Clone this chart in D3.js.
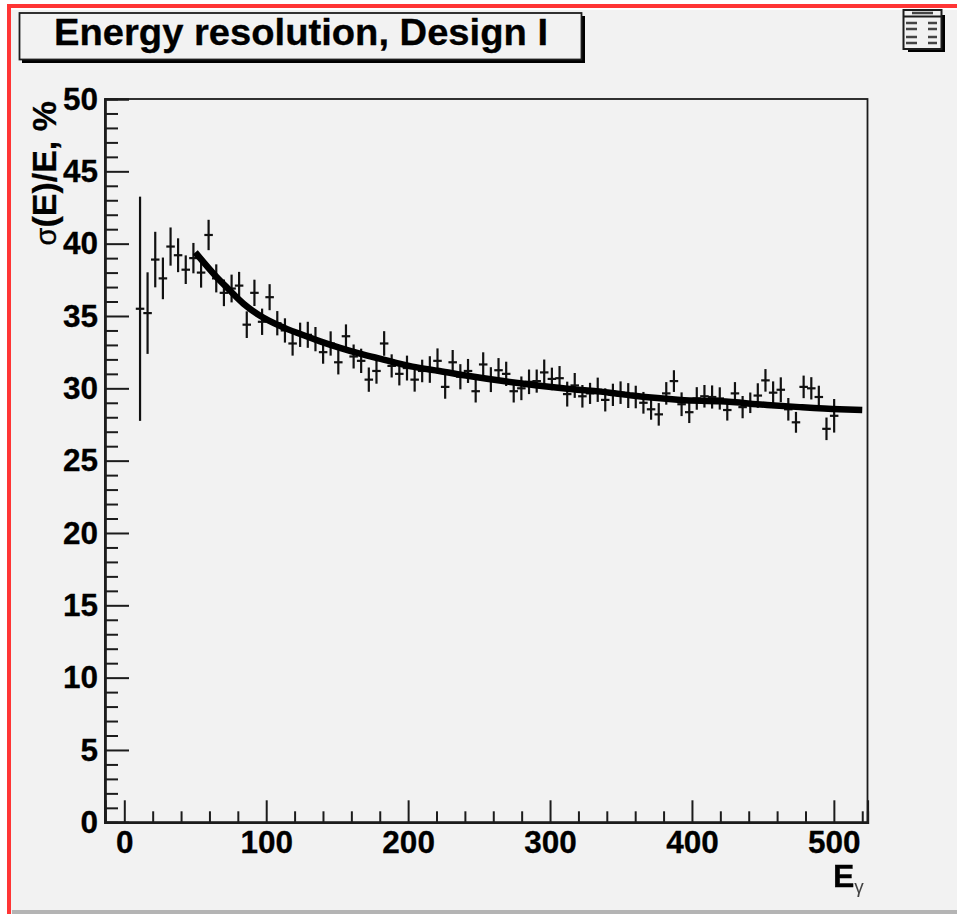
<!DOCTYPE html>
<html>
<head>
<meta charset="utf-8">
<script src="https://cdn.jsdelivr.net/npm/d3@7"></script>
<style>
  html, body { margin: 0; padding: 0; background: #fff; }
  svg { display: block; filter: blur(0.55px); }
  text { font-family: "Liberation Sans", Arial, sans-serif; font-weight: bold; fill: #000; stroke: #000; stroke-width: 0.3px; }
</style>
</head>
<body>
<div id="chart"></div>
<script>
//histogram bin centers
var energy = [
  11.1,16.4,21.8,27.2,32.6,37.9,43.3,48.7,54.1,59.4,
  64.8,70.2,75.6,80.9,86.3,91.7,97.1,102.4,107.8,113.2,
  118.6,123.9,129.3,134.7,140.1,145.4,150.8,156.2,161.6,166.9,
  172.3,177.7,183.1,188.4,193.8,199.2,204.6,209.9,215.3,220.7,
  226.1,231.4,236.8,242.2,247.6,252.9,258.3,263.7,269.1,274.4,
  279.8,285.2,290.6,295.9,301.3,306.7,312.1,317.4,322.8,328.2,
  333.6,338.9,344.3,349.7,355.1,360.4,365.8,371.2,376.6,381.9,
  387.3,392.7,398.1,403.4,408.8,414.2,419.6,424.9,430.3,435.7,
  441.1,446.4,451.8,457.2,462.6,467.9,473.3,478.7,484.1,489.4,
  494.8,500.2
];

//sigma(E)/E per bin
var resolution = [
  35.5,35.2,38.9,37.6,39.8,39.2,38.2,39.0,38.0,40.6,
  37.6,36.6,36.9,37.1,34.4,36.6,34.6,36.3,34.5,34.0,
  33.1,33.7,33.7,33.4,32.5,33.1,31.8,33.6,32.2,31.9,
  30.6,31.2,33.1,31.55,31.0,31.4,30.6,31.2,31.3,31.9,
  30.1,31.8,30.8,31.2,29.8,31.65,30.6,31.25,31.0,29.8,
  30.0,30.45,30.5,31.1,30.65,30.7,29.6,30.2,29.45,29.65,
  29.9,29.2,29.55,29.7,29.5,29.4,29.0,28.55,28.2,29.65,
  30.5,28.9,28.35,29.3,29.45,29.4,29.3,28.5,29.65,28.7,
  29.0,29.5,30.55,29.7,29.9,28.55,27.65,30.1,30.0,29.4,
  27.2,28.1
];

var resolutionErr = [
  7.75,2.82,1.92,1.44,1.32,1.17,0.99,1.05,1.04,1.05,
  0.97,0.92,0.96,0.95,0.92,0.91,0.91,0.90,0.84,0.84,
  0.84,0.84,0.90,0.84,0.80,0.84,0.84,0.82,0.83,0.84,
  0.84,0.88,0.85,0.80,0.80,0.86,0.83,0.78,0.92,0.86,
  0.82,0.85,0.87,0.83,0.78,0.84,0.86,0.84,0.84,0.78,
  0.82,0.85,0.80,0.89,0.78,0.84,0.86,0.86,0.78,0.73,
  0.84,0.80,0.77,0.78,0.86,0.78,0.75,0.72,0.78,0.78,
  0.75,0.82,0.75,0.78,0.78,0.80,0.77,0.73,0.78,0.77,
  0.71,0.85,0.78,0.78,0.86,0.78,0.72,0.78,0.77,0.78,
  0.78,1.16
];

//fit curve
var fitEnergy = [50,65,73,84,96,110,124,138,152,166,180,203,222,243,267,291,314,342,358,392,420,453,476,504,520];
var fitResolution = [39.4,37.7,36.9,35.85,35.0,34.3,33.75,33.25,32.8,32.4,32.05,31.5,31.2,30.85,30.5,30.2,29.95,29.7,29.5,29.2,29.1,28.85,28.7,28.55,28.5];

var binHalfWidth = 3;

var xMajor = [0,100,200,300,400,500];
var xMinor = [20,40,60,80,120,140,160,180,220,240,260,280,320,340,360,380,420,440,460,480,520];
var yMajor = [0,5,10,15,20,25,30,35,40,45,50];
var yMinor = [1,2,3,4,6,7,8,9,11,12,13,14,16,17,18,19,21,22,23,24,26,27,28,29,31,32,33,34,36,37,38,39,41,42,43,44,46,47,48,49];

var width = 957;
var height = 914;
var dark = "#1c1c1c";

var svg = d3.select("#chart").append("svg")
    .attr("width", width)
    .attr("height", height);

//canvas background and window edges
svg.append("rect").attr("x", 11).attr("y", 10).attr("width", width - 11).attr("height", height - 10).attr("fill", "#f2f2f2");
svg.append("rect").attr("x", 7).attr("y", 4).attr("width", width - 7).attr("height", 4).attr("fill", "#ff3535");
svg.append("rect").attr("x", 7).attr("y", 4).attr("width", 4).attr("height", height - 4).attr("fill", "#ff3535");
svg.append("rect").attr("x", 12).attr("y", 910).attr("width", width - 12).attr("height", 4).attr("fill", "#b4b4b4");

//scales
var x = d3.scaleLinear().domain([-13.6, 523.7]).range([105, 867.5]);
var y = d3.scaleLinear().domain([0, 50]).range([822.3, 99]);

//frame
svg.append("rect")
    .attr("x", 105).attr("y", 99)
    .attr("width", 762.5).attr("height", 723.3)
    .attr("fill", "none")
    .attr("stroke", dark)
    .attr("stroke-width", 1.8);

//axes, ticks point into the plot
function styleAxis(g) {
    g.select(".domain").attr("stroke", dark).attr("stroke-width", 2.2);
    g.selectAll(".tick line").attr("stroke", dark).attr("stroke-width", 2);
    g.selectAll(".tick text").style("font-size", "31.5px");
}

svg.append("g")
    .attr("transform", "translate(0,822.3)")
    .call(d3.axisBottom(x).tickValues(xMinor).tickSize(-11).tickFormat(""))
    .call(styleAxis);

svg.append("g")
    .attr("transform", "translate(0,822.3)")
    .call(d3.axisBottom(x).tickValues(xMajor).tickSize(-22).tickPadding(8).tickFormat(d3.format("d")))
    .call(styleAxis);

svg.append("g")
    .attr("transform", "translate(105,0)")
    .call(d3.axisLeft(y).tickValues(yMinor).tickSize(-13).tickFormat(""))
    .call(styleAxis);

svg.append("g")
    .attr("transform", "translate(105,0)")
    .call(d3.axisLeft(y).tickValues(yMajor).tickSize(-24).tickPadding(7).tickFormat(d3.format("d")))
    .call(styleAxis);

//points with error bars
var points = svg.append("g").selectAll("g")
    .data(energy)
    .enter()
    .append("g");

points.append("line")
    .attr("x1", function(d) { return x(d); })
    .attr("x2", function(d) { return x(d); })
    .attr("y1", function(d, i) { return y(resolution[i] - resolutionErr[i]); })
    .attr("y2", function(d, i) { return y(resolution[i] + resolutionErr[i]); });

points.append("line")
    .attr("x1", function(d) { return x(d - binHalfWidth); })
    .attr("x2", function(d) { return x(d + binHalfWidth); })
    .attr("y1", function(d, i) { return y(resolution[i]); })
    .attr("y2", function(d, i) { return y(resolution[i]); });

points.selectAll("line")
    .attr("stroke", "#111")
    .attr("stroke-width", 2.2);

//fit
var line = d3.line()
    .x(function(d) { return x(d); })
    .y(function(d, i) { return y(fitResolution[i]); })
    .curve(d3.curveMonotoneX);

svg.append("path")
    .attr("d", line(fitEnergy))
    .attr("fill", "none")
    .attr("stroke", "#000")
    .attr("stroke-width", 6.5);

//title box
svg.append("rect").attr("x", 22).attr("y", 16).attr("width", 563).attr("height", 47).attr("fill", "#000");
svg.append("rect").attr("x", 19.5).attr("y", 13).attr("width", 562).attr("height", 46.5)
    .attr("fill", "#f2f2f2").attr("stroke", dark).attr("stroke-width", 1.8);
svg.append("text")
    .attr("x", 54).attr("y", 45)
    .attr("textLength", 494)
    .attr("lengthAdjust", "spacingAndGlyphs")
    .style("font-size", "36px")
    .text("Energy resolution, Design I");

//axis titles
var yTitle = svg.append("text")
    .attr("transform", "translate(56,101) rotate(-90)")
    .attr("text-anchor", "end")
    .style("font-size", "34px");
yTitle.append("tspan").style("font-weight", "normal").style("font-size", "29px").text("σ");
yTitle.append("tspan").text("(E)/E, %");

var xTitle = svg.append("text")
    .attr("x", 833).attr("y", 887)
    .style("font-size", "32px");
xTitle.append("tspan").text("E");
xTitle.append("tspan").attr("dy", 6).style("font-weight", "normal").style("font-size", "19px").style("fill", "#444").style("stroke", "none").text("γ");

//stats box, too small in the source to read
var stats = svg.append("g");
stats.append("rect").attr("x", 908).attr("y", 15).attr("width", 37).attr("height", 37).attr("fill", "#000");
stats.append("rect").attr("x", 903.5).attr("y", 10).attr("width", 38).attr("height", 39)
    .attr("fill", "#f2f2f2").attr("stroke", dark).attr("stroke-width", 2);
stats.append("line").attr("x1", 904).attr("x2", 941).attr("y1", 16.5).attr("y2", 16.5).attr("stroke", dark).attr("stroke-width", 2);
stats.append("line").attr("x1", 912).attr("x2", 933).attr("y1", 13).attr("y2", 13).attr("stroke", "#444").attr("stroke-width", 2.5);
stats.selectAll(".row")
    .data([23, 29, 37, 43])
    .enter()
    .append("path")
    .attr("d", function(d) { return "M906," + d + "h11M928," + d + "h9"; })
    .attr("stroke", "#444")
    .attr("stroke-width", 2.5)
    .attr("fill", "none");
</script>
</body>
</html>
